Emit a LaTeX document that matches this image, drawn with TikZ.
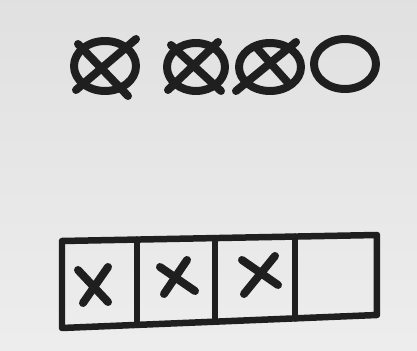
\documentclass[tikz,border=0pt]{standalone}
\begin{document}
\begin{tikzpicture}[x=0.02cm,y=-0.02cm,
  ink/.style={draw=black!88, line width=0.13cm, line cap=round, line join=round},
  thick ink/.style={ink, line width=0.16cm}]
\useasboundingbox (0,0) rectangle (417,351);
\shade[top color=black!12, bottom color=black!7] (0,0) rectangle (417,351);
% top row: circles
\draw[thick ink] (105,66) ellipse [x radius=31, y radius=25];
\draw[thick ink] (78,44) -- (128,96);
\draw[thick ink] (136,39) -- (76,90);
\draw[thick ink] (196,67) ellipse [x radius=29, y radius=24];
\draw[thick ink] (171,45) -- (221,91);
\draw[thick ink] (218,42) -- (168,90);
\draw[thick ink] (270,67) ellipse [x radius=31, y radius=24];
\draw[thick ink] (256,47) -- (290,85);
\draw[thick ink] (296,42) -- (236,91);
\draw[thick ink] (345,64) ellipse [x radius=31, y radius=25];
% bottom row: boxes
\coordinate (tl) at (62,241);
\coordinate (tr) at (377,235);
\coordinate (br) at (377,315);
\coordinate (bl) at (62,328);
\coordinate (t1) at (137,239.6);
\coordinate (b1) at (137,324.9);
\coordinate (t2) at (215,238.1);
\coordinate (b2) at (215,321.7);
\coordinate (t3) at (295,236.6);
\coordinate (b3) at (295,318.4);
\draw[ink] (tl) -- (tr) -- (br) -- (bl) -- cycle;
\draw[ink] (t1) -- (b1);
\draw[ink] (t2) -- (b2);
\draw[ink] (t3) -- (b3);
% crosses in boxes
\draw[thick ink] (78,270) -- (108,302);
\draw[thick ink] (108,267) -- (83,303);
\draw[thick ink] (160,267) -- (195,291);
\draw[thick ink] (187,260) -- (164,294);
\draw[thick ink] (242,260) -- (278,285);
\draw[thick ink] (275,256) -- (244,294);
\end{tikzpicture}
\end{document}
